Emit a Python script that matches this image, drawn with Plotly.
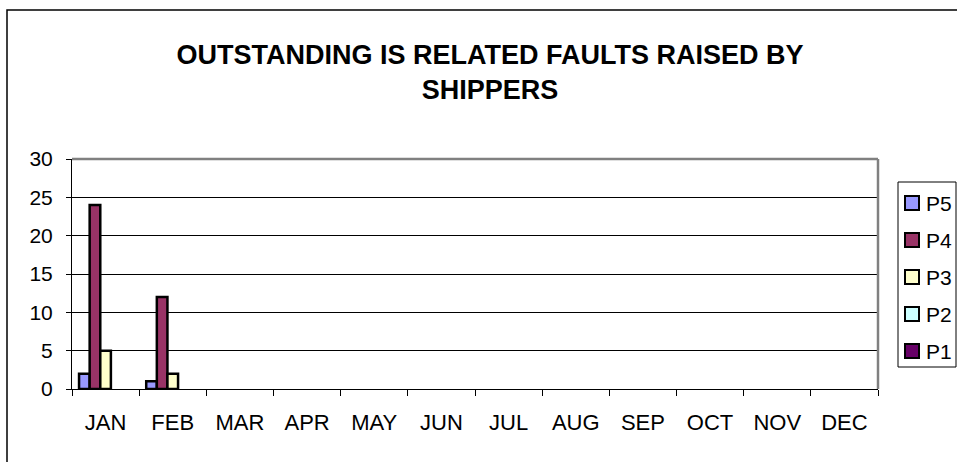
import plotly.graph_objects as go

months = ["JAN", "FEB", "MAR", "APR", "MAY", "JUN", "JUL", "AUG", "SEP", "OCT", "NOV", "DEC"]
series_names = ["P5", "P4", "P3", "P2", "P1"]
p5 = [2, 1, 0, 0, 0, 0, 0, 0, 0, 0, 0, 0]
p4 = [24, 12, 0, 0, 0, 0, 0, 0, 0, 0, 0, 0]
p3 = [5, 2, 0, 0, 0, 0, 0, 0, 0, 0, 0, 0]
p2 = [0, 0, 0, 0, 0, 0, 0, 0, 0, 0, 0, 0]
p1 = [0, 0, 0, 0, 0, 0, 0, 0, 0, 0, 0, 0]
colors = ["#9999FF", "#993366", "#FFFFCC", "#CCFFFF", "#660066"]
title_text = "OUTSTANDING IS RELATED FAULTS RAISED BY<br>SHIPPERS"

values = [p5, p4, p3, p2, p1]

fig = go.Figure()
for name, vals, col in zip(series_names, values, colors):
    # Excel does not draw zero-height bars
    fig.add_trace(go.Bar(
        x=months, y=[v if v else None for v in vals], name=name,
        marker=dict(color=col, line=dict(color="black", width=2.5)),
        showlegend=False,
    ))

L, R, T, B = 72, 79, 159, 73
W, H = 957, 462
pw = W - L - R
ph = H - T - B

def px_x(px):
    return (px - L) / pw

def px_y(py):
    return (H - B - py) / ph

FONT = "Arial, Liberation Sans, sans-serif"

shapes = [
    dict(type="line", xref="paper", yref="paper", x0=0, x1=1, y0=1, y1=1,
         line=dict(color="#808080", width=2.5), layer="above"),
    dict(type="line", xref="paper", yref="paper", x0=1, x1=1, y0=0, y1=1,
         line=dict(color="#808080", width=2.5), layer="above"),
    dict(type="rect", xref="paper", yref="paper",
         x0=px_x(7), x1=px_x(1000), y0=px_y(10), y1=px_y(500),
         line=dict(color="black", width=1.5), fillcolor="rgba(0,0,0,0)"),
    # legend box
    dict(type="rect", xref="paper", yref="paper",
         x0=px_x(898), x1=px_x(956), y0=px_y(182), y1=px_y(367),
         line=dict(color="black", width=1), fillcolor="white"),
]
annotations = []
for i, (name, col) in enumerate(zip(series_names, colors)):
    cy = 203 + 37 * i
    shapes.append(dict(type="rect", xref="paper", yref="paper",
                       x0=px_x(905), x1=px_x(919), y0=px_y(cy - 7), y1=px_y(cy + 7),
                       line=dict(color="black", width=2), fillcolor=col))
    annotations.append(dict(text=name, xref="paper", yref="paper",
                            x=px_x(924), y=px_y(cy), xanchor="left", yanchor="middle",
                            showarrow=False, font=dict(size=21, family=FONT, color="black")))

fig.update_layout(
    width=W, height=H,
    margin=dict(l=L, r=R, t=T, b=B, autoexpand=False),
    paper_bgcolor="white", plot_bgcolor="white",
    barmode="group", bargap=0.21, bargroupgap=0,
    font=dict(family=FONT, size=21, color="black"),
    title=dict(text="<b>" + title_text + "</b>", x=490 / W, xanchor="center",
               y=1 - 63.5 / H, yanchor="middle",
               font=dict(size=27, family=FONT, color="black")),
    showlegend=False,
    xaxis=dict(showline=True, linecolor="black", linewidth=1,
               ticks="outside", ticklen=6, tickcolor="black", tickson="boundaries",
               showgrid=False, tickfont=dict(size=22), ticklabelstandoff=14),
    yaxis=dict(range=[0, 30], dtick=5, showline=True, linecolor="black", linewidth=1,
               ticks="outside", ticklen=5, tickcolor="black",
               showgrid=True, gridcolor="black", gridwidth=1,
               zeroline=False, tickfont=dict(size=21), ticklabelstandoff=9),
    shapes=shapes,
    annotations=annotations,
)

fig.write_html(
    "out.html",
    config={"displayModeBar": False},
    post_script="document.body.style.margin='0';document.body.style.overflow='hidden';",
)
